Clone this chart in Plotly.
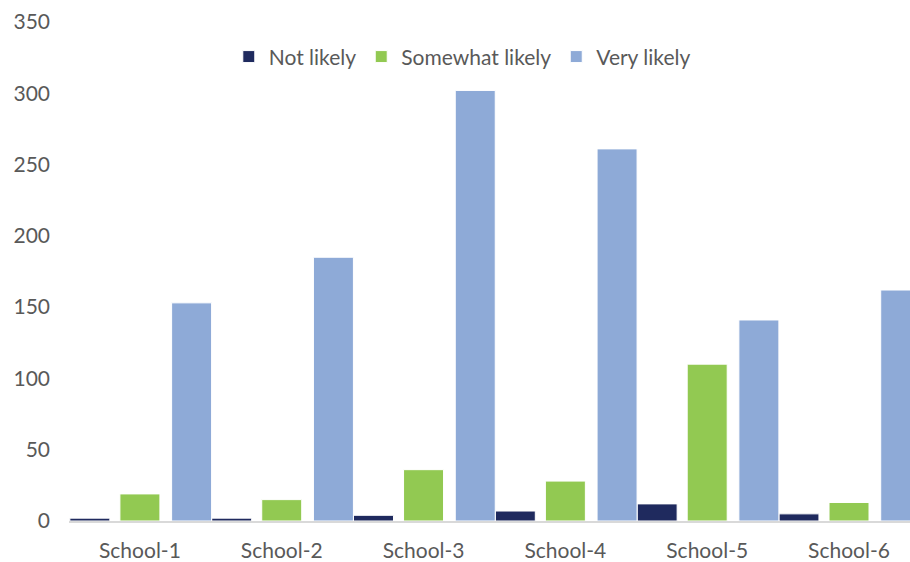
import plotly.graph_objects as go

# Survey responses per school
schools = ["School-1", "School-2", "School-3", "School-4", "School-5", "School-6"]
not_likely = [2, 2, 4, 7, 12, 5]
somewhat_likely = [19, 15, 36, 28, 110, 13]
very_likely = [153, 185, 302, 261, 141, 162]

y_ticks = [0, 50, 100, 150, 200, 250, 300, 350]

series = [
    ("Not likely", not_likely, "#1F2A5E", -0.494),
    ("Somewhat likely", somewhat_likely, "#92C952", -0.141),
    ("Very likely", very_likely, "#8EAAD7", 0.2235),
]

FONT = "Lato, 'Open Sans', Arial, sans-serif"
GREY = "#595959"

fig = go.Figure()
for name, vals, color, off in series:
    fig.add_trace(go.Bar(
        name=name,
        x=list(range(len(schools))),
        y=vals,
        width=0.282,
        offset=off,
        marker=dict(color=color, line=dict(color="white", width=1)),
    ))

fig.update_layout(
    width=910,
    height=562,
    margin=dict(l=69, r=0, t=22, b=41),
    barmode="overlay",
    plot_bgcolor="white",
    paper_bgcolor="white",
    font=dict(family=FONT, size=21, color=GREY),
    legend=dict(
        orientation="h",
        x=0.19,
        xanchor="left",
        y=0.93,
        yanchor="middle",
        font=dict(family=FONT, size=21, color=GREY),
        bgcolor="rgba(0,0,0,0)",
    ),
)

fig.update_xaxes(
    tickmode="array",
    tickvals=list(range(len(schools))),
    ticktext=schools,
    range=[-0.5, 5.43],
    showgrid=False,
    zeroline=False,
    showline=True,
    linecolor="#D9D9D9",
    linewidth=2,
    ticks="",
    ticklabelstandoff=10,
    tickfont=dict(family=FONT, size=21, color=GREY),
)

fig.update_yaxes(
    range=[0, 350],
    tickmode="array",
    tickvals=y_ticks,
    showgrid=False,
    zeroline=False,
    showline=False,
    ticks="",
    ticklabelstandoff=18,
    tickfont=dict(family=FONT, size=21, color=GREY),
)

fig.write_html("out.html")
